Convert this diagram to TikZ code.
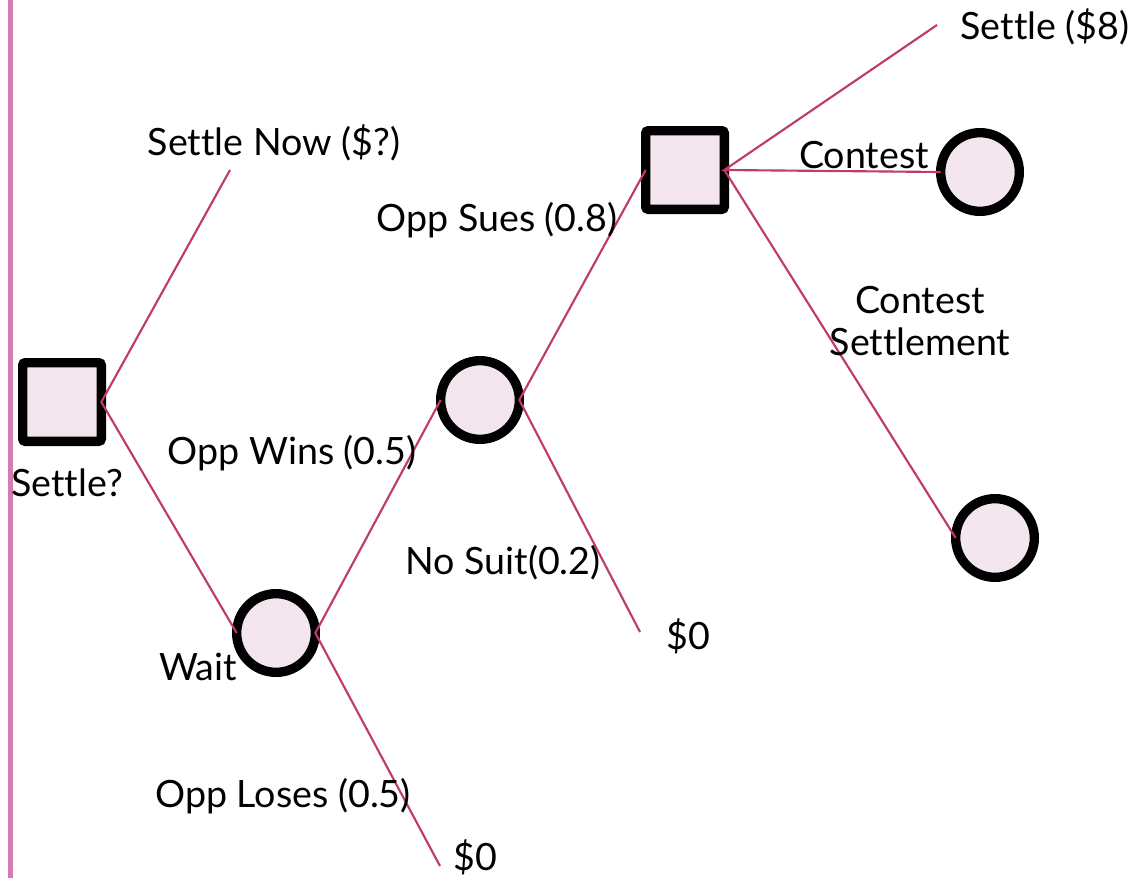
\documentclass[tikz,border=0pt]{standalone}
\usepackage{fontspec}
\setmainfont{Lato}[Ligatures=NoCommon]
\begin{document}
\begin{tikzpicture}[x=0.75pt,y=-0.75pt,
  lbl/.style={font=\fontsize{28.2}{32}\selectfont, inner sep=0pt},
  decision/.style={draw=black, line width=7pt, fill=boxfill, rounded corners=2pt,
    minimum size=59pt, inner sep=0pt, outer sep=0pt},
  chance/.style={circle, draw=black, line width=7pt, fill=boxfill,
    minimum size=59pt, inner sep=0pt, outer sep=0pt},
  branch/.style={draw=branchred, line width=1.6pt}]
\definecolor{boxfill}{HTML}{F3E6EE}
\definecolor{branchred}{HTML}{C03A6A}
\definecolor{sidebar}{HTML}{D67BB0}
\useasboundingbox (0,0) rectangle (1138,878);
\fill[white] (0,0) rectangle (1138,878);
% vertical bar on the left edge
\draw[sidebar, line width=3.75pt] (10,0) -- (10,878);

% decision and chance nodes
\node[decision] (s1) at (62,402) {};
\node[chance]   (w)  at (276,633) {};
\node[chance]   (c2) at (480,400) {};
\node[decision] (s2) at (685,170) {};
\node[chance]   (c3) at (980,172) {};
\node[chance]   (c4) at (995,538) {};

% free ends of the leaf branches
\coordinate (now)   at (230,170);
\coordinate (lose)  at (440,866);
\coordinate (nosuit) at (640,632);
\coordinate (set8)  at (937,25);

% branches
\draw[branch] (now) -- (s1.east) -- (w.west);
\draw[branch] (c2.west) -- (w.east) -- (lose);
\draw[branch] (s2.west) -- (c2.east) -- (nosuit);
\draw[branch] (set8) -- (s2.east) -- (c3.west);
\draw[branch] (s2.east) -- (c4.west);

% labels
\node[lbl] (tnow)   at (274,143) {Settle Now (\$?)};
\node[lbl] (tq)     at (67,483)  {Settle?};
\node[lbl] (twins)  at (292,453) {Opp Wins (0.5)};
\node[lbl] (twait)  at (198,667) {Wait};
\node[lbl] (tlose)  at (283,796) {Opp Loses (0.5)};
\node[lbl] (tz1)    at (475,857) {\$0};
\node[lbl] (tsues)  at (497,220) {Opp Sues (0.8)};
\node[lbl] (tns)    at (503,563) {No Suit(0.2)};
\node[lbl] (tz2)    at (688,636) {\$0};
\node[lbl] (t8)     at (1045,27) {Settle (\$8)};
\node[lbl] (tcon)   at (864,155) {Contest};
\node[lbl, align=center] (tcs) at (920,321) {Contest\\Settlement};
\end{tikzpicture}
\end{document}
